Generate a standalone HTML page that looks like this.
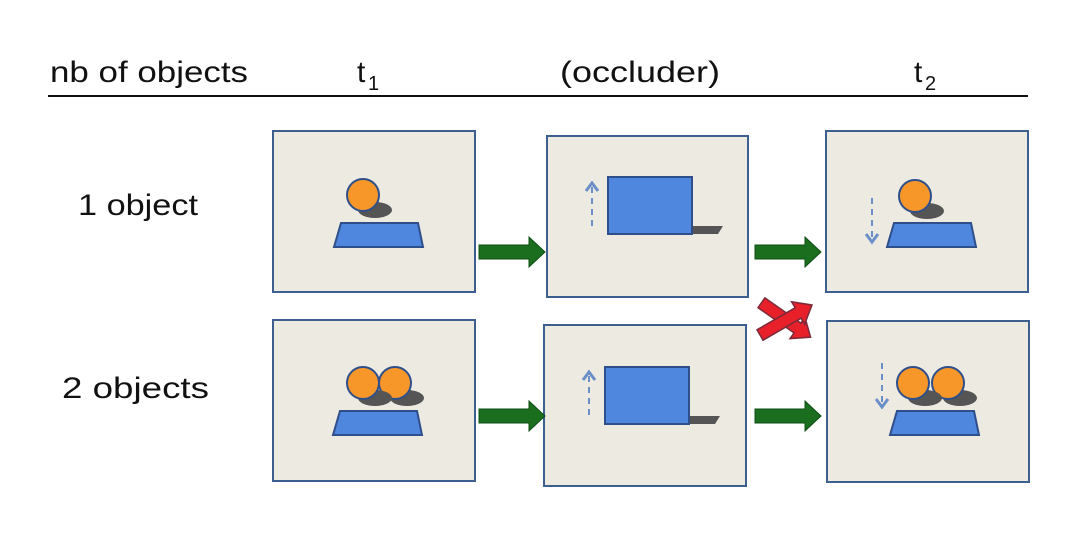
<!DOCTYPE html>
<html><head><style>body{margin:0;background:#fff}svg{display:block}</style></head><body>
<svg width="1080" height="537" viewBox="0 0 1080 537" xmlns="http://www.w3.org/2000/svg" font-family="Liberation Sans, sans-serif">
<defs>
<g id="arrowG"><polygon points="0,-7 50,-7 50,-15 66,0 50,15 50,7 0,7" fill="#1a6e1e" stroke="#0f4d14" stroke-width="1"/></g>
<g id="trap"><polygon points="7,0 84,0 89,24 0,24" fill="#4f86de" stroke="#2f4f8a" stroke-width="2"/></g>
<g id="ball"><ellipse cx="12" cy="15" rx="17" ry="8" fill="#555"/><circle cx="0" cy="0" r="16" fill="#f7972a" stroke="#2f4f8a" stroke-width="2"/></g>
<g id="occ"><polygon points="84,49 115,49 110,57 84,57" fill="#555"/><rect x="0" y="0" width="84" height="57" fill="#4f86de" stroke="#2f4f8a" stroke-width="2"/></g>
<g id="up"><line x1="0" y1="4" x2="0" y2="44" stroke="#6a8fc8" stroke-width="2" stroke-dasharray="6,5"/><polyline points="-6,8 0,0 6,8" fill="none" stroke="#6a8fc8" stroke-width="3"/></g>
<g id="down"><line x1="0" y1="0" x2="0" y2="40" stroke="#6a8fc8" stroke-width="2" stroke-dasharray="6,5"/><polyline points="-6,36 0,44 6,36" fill="none" stroke="#6a8fc8" stroke-width="3"/></g>
</defs>
<g font-size="30" fill="#111">
<text x="50" y="82" textLength="198" lengthAdjust="spacingAndGlyphs">nb of objects</text>
<text x="357" y="82">t</text><text x="368" y="90" font-size="20">1</text>
<text x="560" y="82" textLength="160" lengthAdjust="spacingAndGlyphs">(occluder)</text>
<text x="914" y="82">t</text><text x="925" y="90" font-size="20">2</text>
<text x="78" y="215" textLength="120" lengthAdjust="spacingAndGlyphs">1 object</text>
<text x="62" y="398" textLength="147" lengthAdjust="spacingAndGlyphs">2 objects</text>
</g>
<line x1="48" y1="96" x2="1028" y2="96" stroke="#111" stroke-width="2"/>
<g fill="#edeae2" stroke="#3d5f8f" stroke-width="2">
<rect x="273" y="131" width="202" height="161"/>
<rect x="547" y="136" width="201" height="161"/>
<rect x="826" y="131" width="202" height="161"/>
<rect x="273" y="320" width="202" height="161"/>
<rect x="544" y="325" width="202" height="161"/>
<rect x="827" y="321" width="202" height="161"/>
</g>
<!-- A1 -->
<use href="#ball" x="363" y="195"/><use href="#trap" x="334" y="223"/>
<!-- B1 -->
<use href="#occ" x="608" y="177"/><use href="#up" x="592" y="183"/>
<!-- C1 -->
<use href="#ball" x="915" y="196"/><use href="#trap" x="887" y="223"/><use href="#down" x="872" y="198"/>
<!-- A2 -->
<use href="#ball" x="395" y="383"/><use href="#ball" x="363" y="383"/><use href="#trap" x="333" y="411"/>
<!-- B2 -->
<use href="#occ" x="605" y="367"/><use href="#up" x="589" y="372"/>
<!-- C2 -->
<use href="#ball" x="948" y="383"/><use href="#ball" x="913" y="383"/><use href="#trap" x="890" y="411"/><use href="#down" x="882" y="363"/>
<!-- green arrows -->
<use href="#arrowG" x="479" y="252"/><use href="#arrowG" x="755" y="252"/>
<use href="#arrowG" x="479" y="416"/><use href="#arrowG" x="755" y="416"/>
<!-- red crossed arrows -->
<g transform="translate(786,320)">
<g transform="rotate(35)"><polygon points="-30,-6 14,-6 14,-13 30,0 14,13 14,6 -30,6" fill="#e8202a" stroke="#7a2a3a" stroke-width="1.5"/></g>
<g transform="rotate(-30)"><polygon points="-30,-6 14,-6 14,-13 30,0 14,13 14,6 -30,6" fill="#e8202a" stroke="#7a2a3a" stroke-width="1.5"/></g>
</g>
</svg>
</body></html>
